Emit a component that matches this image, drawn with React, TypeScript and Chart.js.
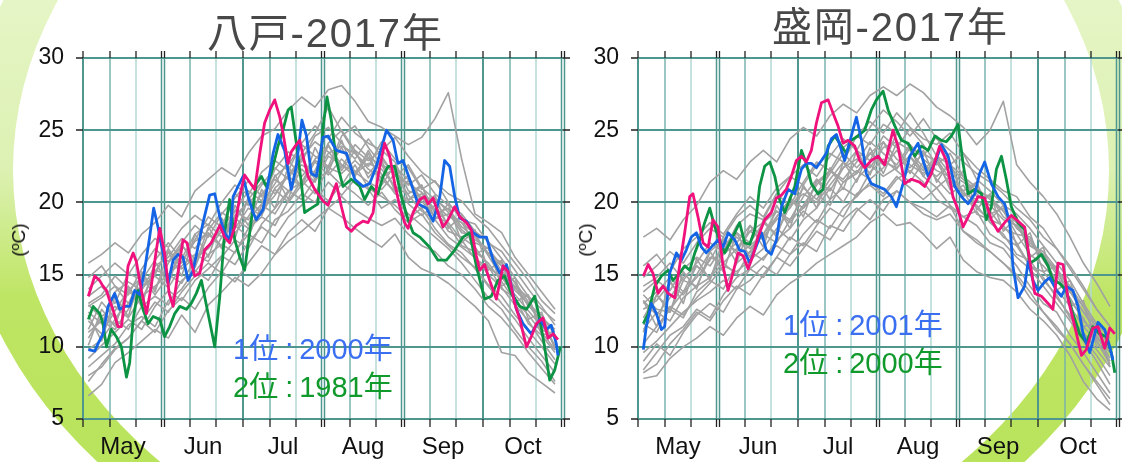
import React, { useEffect, useRef } from "react";
import { Chart, registerables } from "chart.js";

Chart.register(...registerables);

// ---- axis definitions ----
const MONTHS = ["May", "Jun", "Jul", "Aug", "Sep", "Oct"];
const MONTH_CENTERS = [15, 45, 75, 105, 135, 165];
const Y_TICKS = [5, 10, 15, 20, 25, 30];
const GRID_STEPS = [0, 10, 20, 30, 40, 50, 60, 70, 80, 90, 100, 110, 120, 130, 140, 150, 160, 170, 180];
const DOUBLE_LINES = [30, 90, 120, 180];

// ---- day positions of the gray (other years) series ----
const DAYS = [2, 7, 12, 17, 22, 27, 32, 37, 42, 47, 52, 57, 62, 67, 72, 77, 82, 87, 92, 97, 102, 107, 112, 117, 122, 127, 132, 137, 142, 147, 152, 157, 162, 167, 172, 177];

// ---- 八戸: other years (gray) ----
const HACHI_G1 = [13.5, 14.2, 13.0, 15.1, 14.6, 16.0, 17.2, 16.1, 17.8, 18.5, 17.6, 19.4, 20.8, 20.1, 22.3, 23.5, 22.8, 24.6, 25.2, 24.1, 23.0, 24.4, 23.2, 21.8, 22.6, 21.0, 20.2, 19.5, 18.1, 17.4, 16.8, 15.2, 14.5, 13.1, 12.0, 11.2];
const HACHI_G2 = [9.8, 10.5, 11.9, 11.2, 12.8, 13.5, 12.9, 14.6, 15.2, 16.4, 17.1, 16.5, 18.2, 19.0, 18.4, 20.1, 21.5, 20.6, 22.4, 23.8, 22.1, 21.4, 20.9, 22.0, 20.5, 19.4, 18.8, 17.6, 16.9, 16.2, 15.0, 14.1, 12.9, 11.8, 10.4, 9.1];
const HACHI_G3 = [12.4, 11.6, 13.8, 14.5, 13.9, 15.6, 16.2, 17.5, 16.8, 18.1, 19.3, 18.7, 20.2, 21.4, 20.6, 21.9, 23.1, 24.2, 23.5, 22.4, 24.0, 23.1, 21.6, 20.8, 21.5, 20.1, 19.0, 18.6, 17.4, 16.1, 15.5, 14.8, 13.6, 12.5, 11.4, 10.6];
const HACHI_G4 = [8.6, 9.4, 10.2, 11.5, 12.1, 11.4, 13.2, 14.0, 15.3, 14.6, 16.2, 17.4, 16.8, 18.5, 19.6, 20.8, 20.2, 21.6, 22.1, 21.2, 22.6, 21.0, 20.4, 19.8, 18.9, 19.6, 18.2, 17.1, 16.5, 15.4, 14.2, 13.0, 11.9, 10.6, 9.4, 8.2];
const HACHI_G5 = [14.8, 15.6, 14.2, 13.6, 15.4, 16.8, 15.9, 17.2, 18.4, 17.6, 19.2, 20.3, 21.5, 20.4, 21.8, 22.6, 24.0, 23.2, 22.5, 24.6, 25.3, 23.8, 22.6, 22.1, 21.2, 21.9, 20.6, 19.8, 19.2, 18.0, 17.3, 16.1, 14.8, 13.5, 12.6, 11.8];
const HACHI_G6 = [10.6, 12.1, 12.8, 12.0, 13.5, 14.2, 15.0, 14.4, 16.1, 16.8, 18.0, 18.9, 18.2, 19.5, 20.9, 20.0, 21.2, 22.8, 21.9, 23.0, 22.0, 22.7, 22.3, 21.1, 19.9, 19.1, 19.8, 18.4, 17.0, 16.6, 15.8, 14.5, 13.2, 12.2, 11.0, 9.8];
const HACHI_G7 = [11.8, 10.9, 12.5, 13.9, 14.8, 13.6, 14.9, 16.4, 15.5, 17.8, 16.9, 18.2, 19.6, 19.1, 21.0, 21.8, 21.1, 22.2, 24.1, 25.0, 23.6, 22.9, 23.6, 22.8, 20.8, 20.4, 18.9, 19.2, 18.6, 17.8, 16.4, 15.6, 14.1, 12.9, 11.7, 10.1];
const HACHI_G8 = [7.6, 8.8, 9.9, 10.6, 11.8, 13.1, 12.4, 13.8, 14.9, 15.8, 15.1, 16.6, 17.8, 17.2, 18.8, 19.4, 20.6, 20.0, 21.4, 20.5, 21.6, 20.9, 19.6, 20.2, 19.2, 18.4, 17.6, 16.8, 15.8, 14.6, 13.4, 12.6, 11.2, 10.0, 9.0, 7.6];
const HACHI_G9 = [13.0, 13.6, 14.9, 14.0, 13.2, 15.2, 16.6, 15.8, 17.4, 19.0, 18.3, 20.6, 19.8, 21.2, 22.4, 21.6, 23.4, 24.8, 26.6, 24.9, 23.4, 22.5, 24.2, 23.0, 22.4, 20.9, 21.5, 20.0, 18.8, 18.5, 17.2, 16.6, 15.3, 14.0, 12.8, 11.5];
const HACHI_G10 = [11.0, 11.8, 11.2, 12.6, 14.2, 14.9, 14.1, 15.6, 16.4, 15.9, 17.6, 18.4, 17.6, 19.8, 19.2, 20.7, 22.3, 21.4, 23.2, 22.6, 21.8, 23.6, 21.9, 20.6, 20.2, 20.6, 19.5, 18.0, 17.6, 16.9, 15.6, 14.0, 13.4, 11.6, 10.8, 9.6];
const HACHI_G11 = [15.8, 16.4, 17.2, 16.5, 17.8, 18.6, 19.8, 19.0, 20.8, 21.6, 22.4, 21.8, 23.4, 24.6, 25.1, 26.4, 27.3, 26.6, 27.8, 28.1, 27.0, 25.6, 25.2, 24.6, 24.0, 24.5, 25.8, 27.6, 23.0, 19.2, 18.6, 17.9, 16.2, 15.0, 13.8, 12.6];
const HACHI_G12 = [6.6, 7.4, 8.9, 9.6, 10.4, 11.2, 10.6, 12.2, 11.0, 12.9, 13.8, 14.8, 14.2, 15.1, 16.4, 17.3, 18.0, 18.8, 19.6, 19.0, 18.2, 17.5, 16.9, 17.8, 16.2, 15.4, 15.0, 14.4, 13.6, 12.8, 11.8, 9.6, 9.4, 8.2, 7.5, 6.8];
const HACHI_G13 = [12.2, 10.4, 13.5, 12.1, 15.2, 13.8, 16.6, 14.9, 17.8, 16.2, 18.9, 17.5, 20.4, 19.1, 21.9, 20.2, 23.1, 21.6, 24.0, 22.2, 23.6, 21.7, 22.9, 20.8, 21.9, 19.6, 20.5, 18.2, 19.1, 16.4, 16.9, 14.2, 14.8, 11.9, 12.4, 9.8];
const HACHI_G14 = [10.1, 12.6, 11.4, 14.2, 12.8, 15.9, 14.3, 17.1, 15.6, 18.3, 16.8, 19.8, 18.4, 20.9, 19.6, 22.5, 21.0, 23.8, 22.1, 24.3, 21.9, 23.4, 21.2, 22.6, 20.1, 21.2, 18.8, 19.9, 17.2, 18.1, 15.3, 16.0, 13.1, 13.6, 10.8, 11.1];
const HACHI_G15 = [9.2, 10.1, 11.0, 11.9, 11.2, 12.8, 13.9, 13.2, 14.6, 15.4, 16.3, 15.7, 17.2, 18.3, 17.6, 19.0, 19.8, 20.9, 20.1, 21.3, 20.6, 19.8, 20.7, 19.5, 18.6, 19.2, 17.9, 17.0, 16.2, 15.5, 14.3, 13.5, 12.2, 11.1, 10.0, 8.8];
const HACHI_G16 = [14.0, 14.9, 15.8, 15.0, 16.4, 17.5, 16.9, 18.2, 19.1, 18.4, 20.0, 21.2, 20.5, 22.1, 22.9, 22.2, 24.1, 25.3, 24.4, 25.9, 24.8, 24.1, 23.6, 24.5, 23.2, 22.1, 21.4, 20.6, 20.1, 19.0, 18.2, 17.0, 15.8, 14.6, 13.2, 12.3];
const HACHI_G17 = [11.2, 13.1, 12.0, 13.0, 14.9, 14.0, 15.8, 17.0, 16.1, 16.9, 18.6, 17.9, 19.0, 20.6, 21.6, 20.8, 21.4, 23.0, 23.9, 22.6, 22.1, 23.1, 22.6, 21.0, 20.6, 21.2, 19.2, 19.6, 18.3, 17.6, 16.5, 15.8, 14.4, 12.8, 12.2, 10.8];
const HACHI_G18 = [12.9, 12.0, 11.6, 13.8, 13.2, 15.3, 15.0, 15.9, 17.3, 17.9, 17.0, 19.1, 20.0, 19.4, 20.5, 21.9, 22.6, 22.0, 23.4, 23.9, 23.4, 22.3, 21.7, 22.4, 21.6, 20.2, 20.3, 19.3, 17.9, 17.7, 16.3, 14.8, 14.2, 13.4, 11.2, 10.7];
const HACHI_G19 = [8.0, 8.6, 9.8, 10.6, 11.8, 11.0, 12.5, 13.4, 12.6, 14.1, 15.2, 14.5, 15.8, 17.0, 16.4, 17.9, 18.8, 18.0, 19.6, 20.4, 19.5, 18.9, 18.4, 18.9, 17.8, 17.0, 16.6, 15.6, 15.0, 14.0, 12.8, 12.0, 10.9, 9.6, 8.5, 7.4];
const HACHI_G20 = [12.8, 13.4, 14.2, 13.0, 14.0, 15.0, 16.8, 15.4, 16.2, 17.0, 18.2, 19.4, 18.8, 19.9, 21.3, 22.9, 21.8, 22.9, 22.4, 22.0, 22.9, 22.0, 23.0, 21.9, 21.3, 20.7, 19.9, 19.0, 18.6, 17.2, 16.8, 15.6, 13.9, 13.0, 11.7, 10.0];

// ---- 盛岡: other years (gray) ----
const MORI_G1 = [13.8, 14.6, 13.9, 15.4, 16.2, 15.6, 17.0, 17.9, 17.2, 18.6, 19.4, 18.8, 20.4, 21.6, 20.8, 22.4, 23.6, 22.9, 24.6, 23.8, 25.1, 24.0, 22.6, 23.4, 21.8, 21.0, 20.2, 19.4, 18.6, 17.2, 16.4, 15.2, 13.8, 12.4, 11.0, 9.8];
const MORI_G2 = [10.2, 11.4, 12.6, 12.0, 13.8, 14.6, 14.0, 15.8, 16.6, 16.0, 17.4, 18.2, 19.4, 18.6, 20.2, 21.0, 20.4, 22.1, 23.0, 22.2, 21.4, 22.8, 21.6, 20.6, 21.2, 19.6, 18.8, 17.6, 17.0, 15.6, 14.8, 13.4, 12.2, 10.6, 9.4, 8.0];
const MORI_G3 = [12.6, 13.2, 14.4, 13.6, 15.0, 16.6, 17.4, 16.6, 18.0, 17.4, 19.0, 20.2, 19.6, 21.4, 22.2, 21.6, 22.8, 24.2, 23.4, 22.6, 24.0, 23.0, 22.2, 21.8, 20.6, 20.2, 19.4, 18.2, 17.8, 16.4, 15.6, 14.6, 13.4, 11.8, 10.8, 9.2];
const MORI_G4 = [8.4, 9.6, 10.8, 11.4, 12.6, 12.0, 13.6, 14.8, 15.4, 14.8, 16.2, 17.6, 17.0, 18.4, 19.6, 19.0, 20.6, 21.2, 20.4, 21.6, 22.2, 21.4, 20.2, 19.6, 19.0, 18.4, 17.2, 16.8, 15.6, 14.2, 13.0, 12.4, 10.8, 9.6, 8.2, 6.8];
const MORI_G5 = [15.6, 16.4, 15.2, 16.8, 17.6, 18.6, 17.8, 19.2, 20.4, 19.6, 21.0, 21.8, 22.6, 21.8, 23.2, 24.4, 23.6, 25.2, 26.4, 25.6, 24.6, 25.8, 24.4, 23.6, 22.8, 22.0, 21.4, 20.6, 19.6, 18.8, 17.6, 16.8, 15.4, 14.0, 12.6, 11.4];
const MORI_G6 = [11.2, 12.4, 11.8, 13.4, 14.2, 14.8, 15.8, 15.0, 16.6, 17.8, 17.2, 18.8, 19.6, 20.6, 19.8, 21.4, 22.2, 21.6, 22.4, 23.6, 22.6, 22.0, 23.0, 21.6, 20.2, 19.8, 18.6, 17.8, 16.4, 16.0, 14.6, 13.6, 12.0, 11.0, 9.8, 8.6];
const MORI_G7 = [13.2, 12.2, 13.4, 14.8, 15.6, 14.8, 16.4, 17.2, 18.4, 17.6, 18.8, 19.6, 21.0, 20.2, 21.6, 22.8, 22.0, 23.4, 22.6, 24.8, 23.8, 23.2, 24.6, 22.4, 21.6, 20.8, 20.4, 19.0, 18.4, 17.0, 16.6, 15.4, 14.2, 12.8, 11.4, 10.2];
const MORI_G8 = [9.0, 10.2, 9.4, 11.0, 12.2, 13.0, 12.4, 14.0, 14.6, 15.6, 15.0, 16.4, 17.2, 16.6, 18.4, 18.0, 19.4, 20.2, 19.4, 20.8, 20.0, 19.6, 19.0, 19.8, 18.0, 17.4, 16.6, 15.8, 14.8, 13.4, 12.4, 11.2, 10.2, 8.8, 7.6, 6.4];
const MORI_G9 = [14.2, 14.8, 15.8, 14.6, 15.8, 17.2, 16.6, 18.4, 19.2, 18.8, 20.6, 19.8, 21.4, 22.8, 22.2, 23.8, 24.6, 24.0, 25.4, 24.8, 26.2, 24.8, 23.2, 22.6, 23.4, 21.6, 20.8, 19.8, 19.2, 18.2, 17.0, 15.8, 14.6, 13.0, 11.6, 10.6];
const MORI_G10 = [11.6, 11.0, 12.8, 12.2, 13.4, 14.4, 15.6, 15.2, 16.0, 16.8, 18.2, 17.4, 18.8, 19.6, 21.0, 20.0, 21.6, 22.6, 21.8, 22.4, 23.2, 21.8, 21.0, 21.8, 20.8, 19.2, 18.8, 18.4, 17.2, 15.6, 15.2, 14.0, 12.8, 11.4, 10.4, 9.0];
const MORI_G11 = [17.6, 18.2, 17.4, 18.8, 19.8, 21.4, 22.2, 21.6, 22.8, 23.6, 22.8, 24.4, 25.2, 24.6, 26.0, 26.8, 26.2, 27.4, 28.0, 27.4, 28.2, 27.6, 26.6, 26.0, 25.2, 24.0, 25.0, 27.0, 22.6, 21.4, 20.4, 19.2, 17.6, 15.8, 14.4, 12.8];
const MORI_G12 = [7.8, 8.0, 9.2, 10.0, 10.6, 11.4, 10.8, 12.0, 12.8, 12.2, 13.6, 14.4, 15.0, 15.8, 16.4, 17.0, 17.6, 18.6, 19.2, 18.4, 18.6, 17.8, 16.8, 17.6, 16.0, 15.2, 14.8, 14.6, 13.8, 12.6, 11.8, 10.8, 9.4, 7.6, 6.4, 5.6];
const MORI_G13 = [13.2, 11.4, 14.6, 13.0, 16.1, 14.6, 17.4, 15.8, 18.4, 16.9, 19.8, 18.2, 21.2, 19.6, 22.4, 20.9, 23.6, 21.9, 24.2, 22.3, 23.8, 21.8, 23.1, 20.9, 22.2, 19.5, 20.6, 18.0, 19.0, 16.2, 16.9, 13.9, 14.6, 11.4, 11.6, 8.6];
const MORI_G14 = [11.0, 13.6, 12.4, 15.2, 14.0, 16.6, 15.2, 17.9, 16.2, 18.8, 17.6, 20.4, 19.0, 21.6, 20.2, 22.8, 21.4, 23.8, 22.0, 24.1, 22.0, 23.6, 21.4, 22.8, 20.4, 21.4, 18.8, 19.8, 17.0, 17.9, 15.2, 15.6, 12.8, 13.2, 10.0, 10.2];
const MORI_G15 = [9.6, 10.4, 11.4, 12.4, 13.2, 13.8, 14.6, 14.0, 15.4, 16.2, 17.0, 16.4, 17.8, 18.8, 18.2, 19.6, 20.4, 21.4, 20.6, 21.8, 21.0, 20.2, 21.0, 19.8, 19.0, 19.4, 17.8, 17.2, 16.2, 15.4, 14.2, 13.0, 11.8, 10.4, 9.0, 7.4];
const MORI_G16 = [14.8, 15.6, 16.6, 15.8, 17.2, 18.2, 17.6, 19.0, 19.8, 19.0, 20.6, 21.8, 21.2, 22.6, 23.4, 22.8, 24.6, 25.6, 24.8, 26.2, 25.2, 24.4, 24.0, 24.8, 23.4, 22.4, 21.6, 20.8, 20.4, 19.0, 18.2, 16.8, 15.6, 14.2, 12.6, 11.4];
const MORI_G17 = [12.0, 13.6, 12.6, 13.8, 15.6, 14.8, 16.6, 17.6, 16.8, 17.8, 19.4, 18.6, 19.8, 21.2, 22.2, 21.4, 22.0, 23.4, 24.2, 23.0, 22.4, 23.4, 22.8, 21.2, 20.8, 21.4, 19.2, 19.6, 18.2, 17.4, 16.2, 15.4, 14.0, 12.4, 11.4, 10.0];
const MORI_G18 = [13.6, 12.6, 12.4, 14.6, 14.2, 16.2, 15.8, 16.8, 18.0, 18.6, 17.8, 19.8, 20.6, 20.0, 21.2, 22.4, 23.0, 22.4, 23.8, 24.2, 23.6, 22.4, 21.8, 22.6, 21.8, 20.4, 20.4, 19.4, 17.8, 17.6, 16.0, 14.6, 13.8, 12.8, 10.6, 9.6];
const MORI_G19 = [8.2, 8.8, 10.2, 11.2, 12.4, 11.8, 13.2, 14.2, 13.6, 15.0, 16.2, 15.6, 16.8, 18.0, 17.4, 18.8, 19.6, 18.8, 20.2, 20.8, 20.0, 19.2, 18.8, 19.2, 18.0, 17.2, 16.6, 15.8, 15.0, 13.8, 12.4, 11.4, 10.2, 8.8, 7.4, 6.0];
const MORI_G20 = [13.0, 13.8, 14.8, 13.8, 14.8, 16.0, 17.6, 16.4, 17.0, 17.8, 19.0, 20.2, 19.6, 20.6, 22.0, 23.4, 22.4, 23.4, 22.8, 22.4, 23.2, 22.2, 23.2, 22.0, 21.4, 20.6, 19.8, 18.8, 18.4, 17.0, 16.4, 15.0, 13.2, 12.0, 10.4, 8.8];

// ---- highlighted years: [day, temperature] ----
const HACHI_2017: [number, number][] = [[2, 13.5], [4.4, 14.9], [6.2, 14.6], [7.5, 14.2], [8.8, 13.9], [10, 13.2], [11.2, 12.6], [13.1, 11.4], [14.4, 11.4], [15.6, 13.2], [16.9, 15.6], [18.8, 16.5], [20, 15.9], [21.9, 13.9], [23.8, 12.3], [25.6, 14.2], [27.5, 16.7], [28.8, 18.2], [30.6, 16.5], [32.3, 13.7], [33.8, 12.8], [35.6, 15.1], [37.5, 17.4], [39, 17.2], [40.6, 15.8], [41.9, 14.9], [43.8, 15.1], [45.6, 16.7], [48.1, 17.2], [51.3, 18.4], [53.1, 17.6], [55, 17.2], [56.9, 18.3], [58.8, 20.4], [60.6, 21.9], [62.5, 21.4], [64.4, 20.9], [66.3, 23.4], [68.1, 25.5], [70, 26.4], [71.9, 27.1], [73.8, 25.9], [75, 24.8], [76.9, 22.7], [78.1, 23.5], [80, 24.0], [81.3, 24.3], [82.5, 23.2], [84.4, 21.8], [86.9, 20.9], [90, 20.1], [91.9, 19.8], [95, 21.3], [96.9, 19.7], [98.8, 18.3], [100.6, 18.0], [102.5, 18.4], [105, 18.7], [106.9, 18.6], [108.8, 19.3], [110.6, 21.8], [113.1, 24.1], [115, 23.2], [116.9, 21.3], [118.8, 19.7], [120.6, 18.6], [121.9, 18.2], [123.8, 19.3], [126.3, 20.2], [128.1, 20.4], [129.4, 19.9], [131.3, 20.3], [133.1, 19.3], [135, 18.3], [136.9, 18.8], [139.4, 19.7], [141.3, 19.0], [143.8, 18.6], [145.6, 18.1], [147.5, 16.3], [148.8, 15.3], [150.6, 15.7], [152.5, 14.6], [155, 13.3], [157.5, 15.6], [159.4, 15.2], [161.9, 13.0], [163.8, 11.9], [166.3, 10.0], [168.1, 10.7], [170, 11.6], [172.5, 12.0], [174.4, 10.6], [176.3, 10.9], [178.1, 10.5]];
const HACHI_2000: [number, number][] = [[2, 9.8], [4.4, 9.7], [5.6, 10.2], [7.5, 10.9], [9.4, 12.8], [11.9, 13.7], [13.8, 12.6], [15.6, 12.8], [17.5, 12.8], [19.4, 13.9], [21.3, 13.6], [23.1, 15.3], [25, 17.6], [26.5, 19.6], [28.1, 18.3], [30, 16.5], [31.9, 14.4], [33.8, 16.0], [35.6, 16.4], [37.5, 16.2], [39.4, 14.6], [41.3, 15.3], [43.1, 16.9], [45, 18.6], [47.5, 20.5], [49.4, 20.6], [51.3, 19.0], [53.1, 17.9], [55, 17.4], [56.3, 20.4], [58.1, 21.1], [60, 21.8], [61.9, 20.4], [63.8, 19.3], [65, 18.8], [67.5, 19.5], [69.4, 21.3], [71.3, 23.4], [73.1, 24.7], [75.6, 23.6], [78.1, 20.9], [80, 22.5], [82.1, 25.7], [83.8, 24.6], [85.6, 22.0], [87.5, 21.8], [90, 24.5], [91.9, 24.6], [95, 23.6], [98.8, 23.4], [101.9, 21.6], [105, 21.1], [107.5, 21.3], [110, 22.5], [113.8, 25.0], [116.3, 24.3], [118.1, 22.7], [120, 22.9], [122.5, 21.6], [125.6, 19.9], [128.8, 19.6], [131.3, 18.7], [133.8, 20.4], [135.6, 22.9], [137.5, 22.5], [139.4, 20.4], [141.3, 18.9], [143.8, 18.7], [146.3, 17.9], [148.8, 17.6], [151.3, 17.6], [153.8, 16.0], [156.3, 15.1], [158.8, 15.7], [160.6, 14.2], [162.5, 12.6], [165, 11.6], [168.1, 10.9], [171.3, 11.9], [173.8, 11.2], [175.6, 11.5], [177.5, 10.2], [178.1, 9.4]];
const HACHI_1981: [number, number][] = [[2, 11.9], [3.8, 12.8], [6.3, 12.3], [7.5, 11.6], [8.8, 10.0], [10.6, 11.2], [12.5, 10.7], [14.4, 10.0], [16.3, 7.9], [17.5, 8.9], [18.8, 11.9], [20.6, 13.9], [22.5, 12.6], [24.4, 11.6], [26.3, 12.1], [28.8, 11.9], [30.6, 10.7], [32.5, 11.4], [34.4, 12.3], [36.3, 12.8], [38.8, 12.6], [40.6, 13.0], [42.5, 13.7], [44.4, 14.6], [46.9, 12.3], [49.4, 10.0], [51.3, 13.5], [53.1, 17.9], [55, 20.2], [56.9, 17.4], [58.8, 16.2], [60.6, 15.3], [62.5, 17.9], [65, 21.3], [66.9, 21.8], [68.8, 21.1], [70.6, 22.0], [73.1, 23.9], [75, 25.0], [76.9, 26.4], [78.1, 26.6], [80, 24.1], [81.9, 21.3], [83.1, 19.3], [85.6, 19.6], [88.1, 19.9], [90, 25.2], [91.5, 27.3], [93.1, 25.7], [95, 22.9], [97.5, 21.1], [100.6, 21.6], [103.8, 21.1], [105.6, 20.2], [108.1, 21.1], [110.6, 20.6], [112.5, 21.8], [114.4, 22.5], [116.9, 22.5], [119.4, 20.4], [121.9, 18.8], [123.8, 17.9], [126.3, 17.6], [130, 16.9], [133.1, 16.0], [136.3, 16.0], [139.4, 16.7], [142.5, 17.6], [145, 17.9], [147.5, 15.6], [150.6, 13.3], [153.1, 13.5], [155.6, 14.6], [158.1, 14.9], [160.6, 13.7], [163.8, 12.8], [166.3, 12.6], [169.4, 13.5], [171.3, 11.9], [173.1, 10.0], [175, 7.7], [176.9, 8.4], [178.1, 9.3], [179, 10.0]];

const MORI_2017: [number, number][] = [[2, 14.9], [3.8, 15.7], [5.6, 15.1], [7.5, 13.7], [9.4, 14.2], [11.3, 13.7], [13.8, 13.4], [15.6, 15.6], [17.5, 17.9], [19.4, 20.4], [20.6, 20.6], [22.5, 19.0], [24.4, 17.2], [26.3, 16.9], [28.1, 18.8], [30, 18.3], [31.9, 15.6], [33.8, 13.9], [35.6, 15.1], [37.5, 16.5], [39.4, 16.3], [41.3, 15.4], [43.1, 16.3], [45, 17.6], [47.5, 18.8], [50, 19.3], [51.9, 20.3], [53.8, 20.5], [55.6, 20.9], [57.5, 21.8], [59.4, 22.9], [61.3, 23.2], [63.1, 22.8], [65, 23.6], [66.9, 25.5], [68.8, 26.9], [71.3, 27.1], [73.1, 26.2], [75, 25.3], [76.9, 24.1], [78.8, 24.3], [81.3, 23.9], [83.1, 22.9], [85, 22.4], [87.5, 22.9], [90, 23.2], [92.5, 22.6], [95.6, 25.0], [97.5, 23.9], [100, 21.3], [102.5, 21.6], [105.6, 21.4], [107.5, 21.1], [110, 22.0], [113.1, 23.9], [115.6, 22.9], [118.1, 20.4], [120, 19.5], [121.9, 18.3], [123.8, 19.0], [125.6, 19.7], [127.5, 20.4], [130, 20.3], [132.5, 18.8], [135, 18.0], [137.5, 18.6], [140, 19.1], [142.5, 18.7], [145, 18.3], [146.9, 16.0], [148.8, 13.7], [151.3, 13.5], [153.8, 13.0], [155.6, 12.6], [157.5, 15.8], [159.4, 15.7], [161.3, 13.3], [163.8, 11.4], [166.3, 9.4], [168.1, 9.8], [170.6, 11.3], [172.5, 11.4], [175, 9.9], [176.9, 11.3], [178.8, 10.9]];
const MORI_2001: [number, number][] = [[2, 9.8], [3.1, 11.4], [5, 13.0], [6.9, 12.3], [8.8, 11.2], [10, 11.4], [11.9, 15.1], [14.4, 16.5], [16.3, 16.0], [18.1, 16.7], [20, 17.6], [21.9, 17.9], [23.8, 16.9], [25.6, 16.5], [27.5, 16.9], [30, 17.4], [31.9, 16.9], [33.8, 17.9], [36.3, 17.4], [38.1, 16.7], [40, 16.6], [41.9, 15.8], [43.8, 16.7], [46.3, 17.9], [48.1, 16.7], [50, 16.4], [51.9, 17.4], [53.8, 19.7], [56.3, 20.9], [58.8, 20.6], [61.3, 22.3], [63.1, 22.7], [65, 22.7], [66.9, 22.4], [68.8, 22.9], [70.6, 23.4], [72.5, 24.4], [74.4, 24.7], [76.3, 23.6], [77.5, 22.9], [80, 24.6], [81.9, 25.9], [83.8, 24.3], [85.6, 22.0], [87.5, 21.3], [90, 21.1], [92.5, 20.9], [95, 20.4], [96.9, 19.7], [99.4, 21.3], [101.9, 23.2], [105, 24.1], [106.9, 22.9], [108.8, 21.8], [111.3, 22.7], [113.8, 24.0], [116.3, 23.2], [118.8, 21.1], [121.3, 20.4], [123.8, 19.9], [126.3, 20.6], [128.1, 22.0], [130, 22.8], [132.5, 21.3], [135, 20.4], [137.5, 19.9], [139.4, 18.6], [140.6, 15.6], [142.5, 13.4], [145, 14.2], [146.3, 15.9], [148.1, 14.6], [150, 13.9], [152.5, 14.5], [154.4, 14.8], [156.9, 13.9], [158.8, 13.5], [160.6, 14.2], [163.1, 13.9], [165, 12.8], [166.9, 10.9], [169.4, 9.6], [172.5, 11.7], [175, 11.2], [176.9, 10.0], [178.1, 9.1]];
const MORI_2000: [number, number][] = [[2, 11.6], [3.8, 12.3], [6.3, 14.2], [8.8, 14.9], [11.3, 15.3], [13.1, 14.6], [15.6, 15.1], [17.5, 15.6], [19.4, 15.3], [21.3, 16.5], [23.1, 17.4], [25, 18.6], [26.9, 19.6], [28.8, 18.3], [30.6, 17.4], [32.5, 16.5], [34.4, 17.2], [36.3, 17.9], [38.1, 18.6], [40, 17.2], [41.9, 17.1], [43.8, 18.1], [45.6, 21.1], [47.5, 22.5], [49.4, 22.8], [51.3, 21.8], [53.1, 20.2], [55, 19.3], [56.9, 20.2], [58.8, 21.1], [61.3, 23.6], [63.1, 22.7], [65, 21.3], [67.5, 20.6], [69.4, 20.9], [71.3, 23.9], [73.8, 24.6], [76.3, 23.9], [78.1, 23.4], [80, 24.3], [82.5, 24.6], [85, 25.0], [87.5, 26.4], [89.4, 27.1], [91.9, 27.7], [93.8, 26.4], [96.3, 25.3], [98.8, 24.3], [101.3, 24.1], [103.8, 23.2], [106.3, 23.9], [108.8, 23.6], [111.3, 24.6], [113.8, 24.3], [115.6, 24.2], [117.5, 24.6], [120, 25.4], [121.9, 22.7], [123.8, 20.6], [126.3, 20.9], [128.8, 20.6], [130.6, 18.8], [132.5, 19.7], [134.4, 22.3], [136.3, 23.2], [138.1, 21.6], [140, 19.7], [142.5, 18.6], [145, 18.1], [146.9, 15.8], [148.8, 16.0], [151.3, 16.4], [153.8, 15.6], [155.6, 14.6], [158.1, 14.4], [160.6, 13.9], [163.1, 12.3], [165.6, 10.9], [168.1, 10.3], [170.6, 11.4], [173.1, 10.9], [175.6, 10.7], [177.5, 9.6], [178.8, 8.2]];

const HACHI_GRAY = [HACHI_G1, HACHI_G2, HACHI_G3, HACHI_G4, HACHI_G5, HACHI_G6, HACHI_G7, HACHI_G8, HACHI_G9, HACHI_G10, HACHI_G11, HACHI_G12, HACHI_G13, HACHI_G14, HACHI_G15, HACHI_G16, HACHI_G17, HACHI_G18, HACHI_G19, HACHI_G20];
const MORI_GRAY = [MORI_G1, MORI_G2, MORI_G3, MORI_G4, MORI_G5, MORI_G6, MORI_G7, MORI_G8, MORI_G9, MORI_G10, MORI_G11, MORI_G12, MORI_G13, MORI_G14, MORI_G15, MORI_G16, MORI_G17, MORI_G18, MORI_G19, MORI_G20];

const COLOR_2017 = "#f0117c";
const COLOR_FIRST = "#1464e6";
const COLOR_SECOND = "#0c9444";
const LABEL_FONT = '"Liberation Sans", Arial, "Noto Sans CJK JP", sans-serif';

const gridPlugin = {
  id: "panelGrid",
  beforeDatasetsDraw(chart: any) {
    const { ctx, chartArea: a, scales } = chart;
    const x = scales.x;
    const y = scales.y;
    ctx.save();
    for (const u of GRID_STEPS) {
      const px = Math.round(x.getPixelForValue(u));
      const m = u % 30;
      ctx.beginPath();
      if (m === 0) {
        ctx.strokeStyle = "#4e968e";
        if (DOUBLE_LINES.includes(u)) {
          ctx.lineWidth = 1.5;
          ctx.moveTo(px - 1.5, a.top);
          ctx.lineTo(px - 1.5, a.bottom);
          ctx.moveTo(px + 1.5, a.top);
          ctx.lineTo(px + 1.5, a.bottom);
        } else {
          ctx.lineWidth = 2;
          ctx.moveTo(px, a.top);
          ctx.lineTo(px, a.bottom);
        }
      } else {
        ctx.strokeStyle = m === 10 ? "#79b5ad" : "#b2d9d4";
        ctx.lineWidth = 1.5;
        ctx.moveTo(px, a.top);
        ctx.lineTo(px, a.bottom);
      }
      ctx.stroke();
    }
    ctx.strokeStyle = "#4e968e";
    ctx.lineWidth = 2;
    for (const v of Y_TICKS) {
      const py = Math.round(y.getPixelForValue(v));
      ctx.beginPath();
      ctx.moveTo(a.left, py);
      ctx.lineTo(a.right, py);
      ctx.stroke();
    }
    ctx.restore();
  },
  afterDatasetsDraw(chart: any) {
    const { ctx, chartArea: a, scales } = chart;
    const x = scales.x;
    const y = scales.y;
    ctx.save();
    ctx.strokeStyle = "#222";
    ctx.lineWidth = 1.3;
    for (const u of GRID_STEPS) {
      const px = Math.round(x.getPixelForValue(u));
      const xs = DOUBLE_LINES.includes(u) ? [px - 1.5, px + 1.5] : [px];
      for (const xx of xs) {
        ctx.beginPath();
        ctx.moveTo(xx, a.top);
        ctx.lineTo(xx, a.top - 7);
        ctx.moveTo(xx, a.bottom);
        ctx.lineTo(xx, a.bottom + 8);
        ctx.stroke();
      }
    }
    for (const v of Y_TICKS) {
      const py = Math.round(y.getPixelForValue(v));
      ctx.beginPath();
      ctx.moveTo(a.left, py);
      ctx.lineTo(a.left - 7, py);
      ctx.moveTo(a.right, py);
      ctx.lineTo(a.right + 7, py);
      ctx.stroke();
    }
    ctx.restore();
  },
};

type PanelProps = {
  left: number;
  width: number;
  yWidth: number;
  padRight: number;
  gray: number[][];
  top: [number, number][];
  first: [number, number][];
  second: [number, number][];
};

function Panel({ left, width, yWidth, padRight, gray, top, first, second }: PanelProps) {
  const ref = useRef<HTMLCanvasElement | null>(null);
  useEffect(() => {
    if (!ref.current) return;
    const toPts = (arr: [number, number][]) => arr.map(([d, t]) => ({ x: d, y: t }));
    const datasets: any[] = gray.map((g) => ({
      data: DAYS.map((d, i) => ({ x: d, y: g[i] })),
      borderColor: "#a2a2a2",
      borderWidth: 1.6,
      order: 10,
    }));
    datasets.push({ data: toPts(second), borderColor: COLOR_SECOND, borderWidth: 2.8, order: 3 });
    datasets.push({ data: toPts(first), borderColor: COLOR_FIRST, borderWidth: 2.8, order: 2 });
    datasets.push({ data: toPts(top), borderColor: COLOR_2017, borderWidth: 2.8, order: 1 });

    const chart = new Chart(ref.current, {
      type: "line",
      data: { datasets },
      options: {
        responsive: false,
        animation: false,
        layout: { padding: { left: 0, right: padRight, top: 58, bottom: 0 } },
        plugins: { legend: { display: false }, tooltip: { enabled: false } },
        elements: { point: { radius: 0 }, line: { tension: 0, borderJoinStyle: "round" } },
        scales: {
          x: {
            type: "linear",
            min: 0,
            max: 180,
            afterBuildTicks: (s: any) => {
              s.ticks = MONTH_CENTERS.map((v) => ({ value: v }));
            },
            afterFit: (s: any) => {
              s.height = 43;
            },
            ticks: {
              autoSkip: false,
              maxRotation: 0,
              padding: 14,
              color: "#111",
              font: { size: 24, family: LABEL_FONT },
              callback: (v: any) => MONTHS[MONTH_CENTERS.indexOf(Number(v))] ?? "",
            },
            grid: { display: false, drawTicks: false },
            border: { display: false },
          },
          y: {
            min: 5,
            max: 30,
            afterBuildTicks: (s: any) => {
              s.ticks = Y_TICKS.map((v) => ({ value: v }));
            },
            afterFit: (s: any) => {
              s.width = yWidth;
            },
            ticks: {
              padding: 19,
              color: "#111",
              font: { size: 23, family: LABEL_FONT },
            },
            grid: { display: false, drawTicks: false },
            border: { display: false },
          },
        },
      } as any,
      plugins: [gridPlugin],
    });
    return () => chart.destroy();
  }, []);
  return (
    <canvas
      ref={ref}
      width={width}
      height={462}
      style={{ position: "absolute", left, top: 0, width, height: 462 }}
    />
  );
}

const titleStyle: React.CSSProperties = {
  position: "absolute",
  fontFamily: LABEL_FONT,
  fontSize: 40,
  lineHeight: "40px",
  letterSpacing: "1.8px",
  color: "#484848",
  whiteSpace: "nowrap",
};

const noteStyle: React.CSSProperties = {
  position: "absolute",
  fontFamily: LABEL_FONT,
  fontSize: 29,
  lineHeight: "38px",
  whiteSpace: "nowrap",
};

const unitStyle: React.CSSProperties = {
  position: "absolute",
  fontFamily: LABEL_FONT,
  fontSize: 19,
  lineHeight: "20px",
  color: "#111",
  whiteSpace: "nowrap",
  transform: "translate(-50%, -50%) rotate(-90deg)",
};

const Colon = () => <span style={{ margin: "0 6px 0 7px" }}>:</span>;

export default function App() {
  return (
    <div
      style={{
        position: "fixed",
        left: 0,
        top: 0,
        width: 1122,
        height: 462,
        overflow: "hidden",
        background: "#ffffff",
      }}
    >
      <div
        style={{
          position: "absolute",
          left: -39,
          top: -290,
          width: 1200,
          height: 920,
          borderRadius: "50%",
          background:
            "linear-gradient(to bottom, #eef8d6 0%, #e6f5c6 31%, #dcf1b2 50%, #cdeb8a 57%, #bee563 64%, #b6e256 100%)",
        }}
      />
      <div
        style={{
          position: "absolute",
          left: 13,
          top: -258,
          width: 1096,
          height: 856,
          borderRadius: "50%",
          background: "#ffffff",
        }}
      />
      <Panel left={0} width={580} yWidth={83} padRight={17} gray={HACHI_GRAY} top={HACHI_2017} first={HACHI_2000} second={HACHI_1981} />
      <Panel left={575} width={547} yWidth={63} padRight={4} gray={MORI_GRAY} top={MORI_2017} first={MORI_2001} second={MORI_2000} />

      <div style={{ ...titleStyle, left: 207, top: 13 }}>八戸-2017年</div>
      <div style={{ ...titleStyle, left: 772, top: 7 }}>盛岡-2017年</div>

      <div style={{ ...unitStyle, left: 19, top: 240 }}>(ºC)</div>
      <div style={{ ...unitStyle, left: 586, top: 240 }}>(ºC)</div>

      <div style={{ ...noteStyle, left: 233, top: 330 }}>
        <div style={{ color: "#3a6ff2" }}>1位<Colon />2000年</div>
        <div style={{ color: "#109a2c" }}>2位<Colon />1981年</div>
      </div>
      <div style={{ ...noteStyle, left: 783, top: 306 }}>
        <div style={{ color: "#3a6ff2" }}>1位<Colon />2001年</div>
        <div style={{ color: "#109a2c" }}>2位<Colon />2000年</div>
      </div>
    </div>
  );
}
